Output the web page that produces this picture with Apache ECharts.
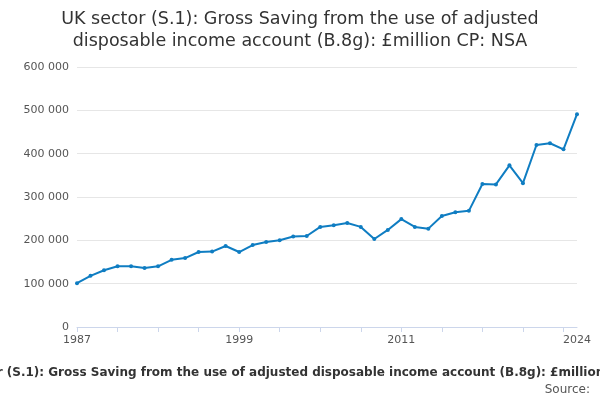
<!DOCTYPE html>
<html>
<head>
<meta charset="utf-8">
<script src="https://cdn.jsdelivr.net/npm/echarts@6/dist/echarts.min.js"></script>
<style>html,body{margin:0;padding:0;background:#fff}#chart{width:600px;height:400px}</style>
</head>
<body>
<div id="chart"></div>
<script>
var years = [];
for (var y = 1987; y <= 2024; y++) years.push(String(y));
var saving = [101000, 118000, 131000, 140000, 140000, 136000, 140000, 155000, 159000, 173000,
    174000, 187000, 173000, 189000, 196000, 200000, 209000, 210000, 231000, 235000,
    240000, 231000, 203000, 224000, 249000, 231000, 227000, 256000, 265000, 268000,
    330000, 329000, 373000, 332000, 420000, 424000, 410000, 491000];
var shownLabels = ["1987", "1999", "2011", "2024"];

var chart = echarts.init(document.getElementById("chart"));
chart.setOption({
    textStyle: { fontFamily: "DejaVu Sans" },
    title: {
        text: "UK sector (S.1): Gross Saving from the use of adjusted\ndisposable income account (B.8g): £million CP: NSA",
        left: "center",
        top: 3,
        textStyle: { fontSize: 17.5, fontWeight: "normal", color: "#333", lineHeight: 22 }
    },
    grid: { left: 77, right: 23, top: 67, bottom: 73 },
    xAxis: {
        type: "category",
        data: years,
        boundaryGap: false,
        axisLine: { lineStyle: { color: "#ccd6eb" } },
        axisTick: { interval: 2, lineStyle: { color: "#ccd6eb" } },
        axisLabel: {
            color: "#555", fontSize: 11,
            interval: function (i, v) { return shownLabels.indexOf(v) >= 0; }
        }
    },
    yAxis: {
        type: "value",
        min: 0, max: 600000, interval: 100000,
        axisLabel: {
            color: "#555", fontSize: 11,
            formatter: function (v) { return v === 0 ? "0" : (v / 1000) + " 000"; }
        },
        splitLine: { lineStyle: { color: "#e6e6e6" } }
    },
    series: [{
        type: "line",
        data: saving,
        symbol: "circle",
        symbolSize: 4,
        itemStyle: { color: "#0f7dc2" },
        lineStyle: { color: "#0f7dc2", width: 2 }
    }],
    graphic: [{
        type: "text", left: "center", top: 367,
        style: {
            text: "UK sector (S.1): Gross Saving from the use of adjusted disposable income account (B.8g): £million CP: NSA",
            font: "bold 12px DejaVu Sans", fill: "#333"
        }
    }, {
        type: "text", right: 10, top: 384,
        style: { text: "Source:", font: "12px DejaVu Sans", fill: "#555" }
    }]
});
</script>
</body>
</html>
